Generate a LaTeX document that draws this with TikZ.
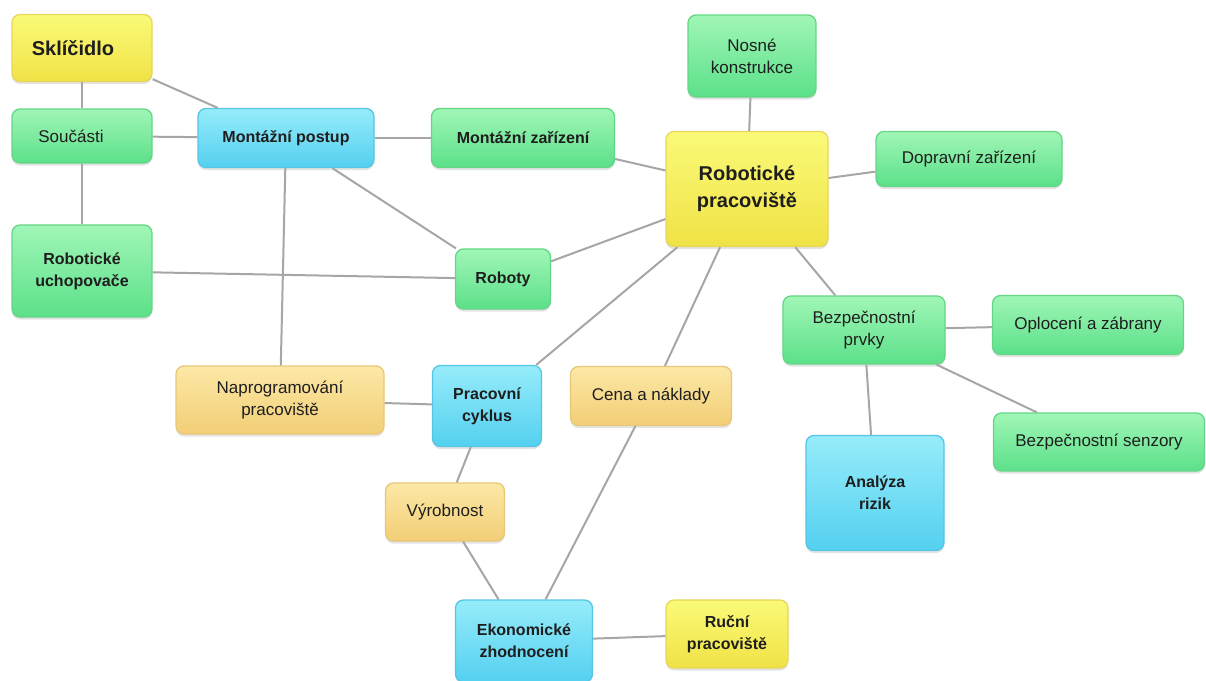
\documentclass[tikz,border=0pt]{standalone}
\usepackage{fontspec}
\setmainfont{Liberation Sans}
\usetikzlibrary{shadows}
\definecolor{edgegray}{HTML}{A6A6A6}
\definecolor{txtdark}{HTML}{1E1E1E}
\begin{document}
\begin{tikzpicture}[x=1pt,y=-1pt]
	\tikzset{box/.style = {rectangle, rounded corners=8pt, line width=1.3pt, align=center,
			inner sep=0pt, text=txtdark,
			drop shadow={shadow xshift=0pt, shadow yshift=-2.5pt, opacity=.22}},
		plaintext/.style = {font=\fontsize{17}{22}\selectfont},
		boldtext/.style = {font=\bfseries\fontsize{16}{22}\selectfont},
		bigtext/.style = {font=\bfseries\fontsize{20}{27}\selectfont},
		greenbox/.style = {box, top color={rgb,255:red,160;green,246;blue,182}, bottom color={rgb,255:red,92;green,224;blue,138},
			draw={rgb,255:red,100;green,214;blue,134}},
		yellowbox/.style = {box, top color={rgb,255:red,250;green,250;blue,120}, bottom color={rgb,255:red,240;green,226;blue,70},
			draw={rgb,255:red,232;green,214;blue,90}},
		bluebox/.style = {box, top color={rgb,255:red,150;green,236;blue,250}, bottom color={rgb,255:red,84;green,208;blue,240},
			draw={rgb,255:red,86;green,196;blue,228}},
		orangebox/.style = {box, top color={rgb,255:red,252;green,232;blue,166}, bottom color={rgb,255:red,242;green,206;blue,118},
			draw={rgb,255:red,232;green,200;blue,120}},
		link/.style = {draw=edgegray, line width=2pt}}
	\useasboundingbox (0,0) rectangle (1206,680);
	% left column
	\node[yellowbox, bigtext, minimum width=140pt, minimum height=67pt] (sklicidlo) at (82,48) {Sklíčidlo\hspace*{18pt}};
	\node[greenbox, plaintext, minimum width=140pt, minimum height=54pt] (soucasti) at (82,136) {Součásti\hspace*{22pt}};
	\node[greenbox, boldtext, minimum width=140pt, minimum height=92pt] (uchop) at (82,271) {Robotické\\uchopovače};
	% top row
	\node[bluebox, boldtext, minimum width=176pt, minimum height=59pt] (postup) at (286,138) {Montážní postup};
	\node[greenbox, boldtext, minimum width=183pt, minimum height=59pt] (zarizeni) at (523,138) {Montážní zařízení};
	\node[greenbox, plaintext, minimum width=128pt, minimum height=82pt] (nosne) at (752,56) {Nosné\\konstrukce};
	\node[yellowbox, bigtext, minimum width=162pt, minimum height=115pt] (pracoviste) at (747,189) {Robotické\\pracoviště};
	\node[greenbox, plaintext, minimum width=186pt, minimum height=55pt] (doprava) at (969,159) {Dopravní zařízení};
	\node[greenbox, boldtext, minimum width=95pt, minimum height=60pt] (roboty) at (503,279) {Roboty};
	% safety branch
	\node[greenbox, plaintext, minimum width=162pt, minimum height=68pt] (bezpecnost) at (864,330) {Bezpečnostní\\prvky};
	\node[greenbox, plaintext, minimum width=191pt, minimum height=59pt] (oploceni) at (1088,325) {Oplocení a zábrany};
	\node[greenbox, plaintext, minimum width=211pt, minimum height=58pt] (senzory) at (1099,442) {Bezpečnostní senzory};
	\node[bluebox, boldtext, minimum width=138pt, minimum height=115pt] (rizika) at (875,493) {Analýza\\rizik};
	% lower part
	\node[orangebox, plaintext, minimum width=208pt, minimum height=68pt] (program) at (280,400) {Naprogramování\\pracoviště};
	\node[bluebox, boldtext, minimum width=109pt, minimum height=81pt] (cyklus) at (487,406) {Pracovní\\cyklus};
	\node[orangebox, plaintext, minimum width=161pt, minimum height=59pt] (cena) at (651,396) {Cena a náklady};
	\node[orangebox, plaintext, minimum width=119pt, minimum height=58pt] (vyrobnost) at (445,512) {Výrobnost};
	\node[bluebox, boldtext, minimum width=137pt, minimum height=82pt] (ekonom) at (524,641) {Ekonomické\\zhodnocení};
	\node[yellowbox, boldtext, minimum width=122pt, minimum height=68pt] (rucni) at (727,634) {Ruční\\pracoviště};
	% connections
	\draw[link] (sklicidlo) -- (soucasti);
	\draw[link] (sklicidlo) -- (postup);
	\draw[link] (soucasti) -- (postup);
	\draw[link] (soucasti) -- (uchop);
	\draw[link] (uchop) -- (roboty);
	\draw[link] (postup) -- (zarizeni);
	\draw[link] (postup) -- (roboty);
	\draw[link] (postup) -- (program);
	\draw[link] (zarizeni) -- (pracoviste);
	\draw[link] (nosne) -- (pracoviste);
	\draw[link] (pracoviste) -- (doprava);
	\draw[link] (pracoviste) -- (roboty);
	\draw[link] (pracoviste) -- (cyklus);
	\draw[link] (pracoviste) -- (cena);
	\draw[link] (pracoviste) -- (bezpecnost);
	\draw[link] (bezpecnost) -- (oploceni);
	\draw[link] (bezpecnost) -- (senzory);
	\draw[link] (bezpecnost) -- (rizika);
	\draw[link] (program) -- (cyklus);
	\draw[link] (cyklus) -- (vyrobnost);
	\draw[link] (vyrobnost) -- (ekonom);
	\draw[link] (cena) -- (ekonom);
	\draw[link] (ekonom) -- (rucni);
\end{tikzpicture}
\end{document}
